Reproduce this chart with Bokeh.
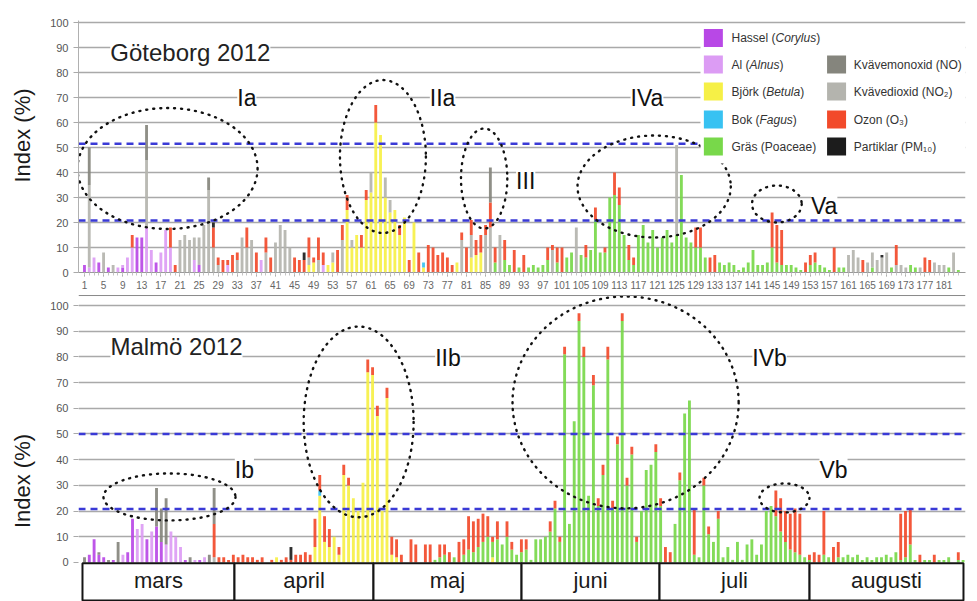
from bokeh.embed import file_html
from bokeh.layouts import column
from bokeh.models import ColumnDataSource, FixedTicker, Label, Range1d
from bokeh.plotting import figure
from bokeh.resources import INLINE

# Days 1..184 = 1 March .. 31 August 2012
DAYS = list(range(1, 185))
X_TICKS = list(range(1, 185, 4))
Y_TICKS = list(range(0, 101, 10))
MONTHS = ["mars", "april", "maj", "juni", "juli", "augusti"]

SERIES = ["hassel", "al", "bjork", "bok", "gras", "no2", "ozon", "no", "pm10"]
COLORS = {
    "hassel": "#b848e6", "al": "#dc9cf4", "bjork": "#f6f046", "bok": "#38c2f2",
    "gras": "#78d84a", "no": "#85857d", "no2": "#b4b4ae", "ozon": "#f24a2a",
    "pm10": "#1c1c1c",
}

# ---- Göteborg 2012: daily index contributions {day: index} ----
gbg_hassel = {1: 3, 4: 4, 6: 2, 9: 2, 12: 14, 13: 14, 16: 4, 25: 3}
gbg_al = {2: 2, 3: 6, 8: 2, 9: 1, 10: 6, 11: 10, 14: 18, 15: 9, 17: 8, 18: 17,
          19: 10, 24: 5, 31: 3, 38: 5, 51: 3}
gbg_bjork = {48: 3, 49: 4, 52: 3, 53: 4, 56: 25, 57: 10, 58: 15, 59: 10, 60: 29,
             61: 32, 62: 60, 63: 55, 64: 30, 65: 24, 66: 25, 67: 15, 68: 22,
             70: 20, 72: 2, 79: 4, 82: 6, 83: 7, 84: 8}
gbg_bok = {72: 2}
gbg_gras = {87: 4, 89: 5, 90: 3, 92: 2, 94: 2, 95: 3, 96: 2, 97: 3, 98: 5,
            100: 4, 102: 6, 103: 8, 105: 7, 106: 6, 107: 9, 108: 21, 109: 8,
            110: 8, 111: 30, 112: 31, 113: 27, 114: 15, 115: 5, 116: 3, 117: 15,
            118: 19, 119: 12, 120: 17, 121: 10, 122: 14, 123: 17, 124: 12,
            125: 15, 126: 39, 127: 14, 128: 12, 129: 10, 130: 10, 131: 6,
            134: 4, 135: 3, 136: 4, 137: 3, 138: 1, 139: 2, 140: 4, 141: 9,
            142: 3, 143: 3, 144: 4, 145: 10, 146: 4, 147: 3, 148: 3, 149: 3,
            150: 2, 151: 1, 153: 3, 154: 4, 155: 3, 156: 2, 157: 1, 159: 2,
            160: 2, 166: 2, 170: 2, 174: 3, 175: 2, 182: 2, 184: 1}
gbg_no2 = {2: 33, 5: 8, 7: 3, 14: 27, 21: 13, 22: 15, 23: 13, 24: 9, 25: 11,
           26: 19, 27: 33, 28: 10, 29: 3, 33: 5, 34: 14, 35: 10, 36: 13, 39: 8,
           41: 12, 42: 19, 43: 17, 44: 10, 48: 3, 50: 5, 53: 4, 55: 13, 57: 3,
           61: 8, 64: 8, 65: 5, 80: 13, 82: 9, 85: 15, 86: 18, 88: 15, 99: 9,
           104: 18, 125: 36, 161: 7, 162: 9, 163: 6, 165: 4, 166: 6, 167: 5,
           168: 6, 169: 8, 171: 3, 172: 3, 173: 2, 176: 2, 179: 4, 180: 3,
           181: 3, 183: 8}
gbg_ozon = {11: 5, 19: 8, 20: 3, 28: 8, 29: 3, 30: 5, 31: 2, 32: 7, 33: 3,
            35: 8, 37: 8, 39: 6, 40: 6, 45: 6, 46: 5, 47: 5, 48: 8, 49: 2,
            50: 9, 51: 5, 54: 9, 55: 6, 56: 6, 59: 5, 60: 4, 62: 7, 67: 4,
            69: 5, 71: 8, 73: 11, 74: 10, 75: 7, 76: 8, 77: 6, 78: 3, 80: 3,
            81: 10, 82: 6, 83: 6, 84: 7, 85: 4, 86: 10, 87: 6, 89: 8, 91: 9,
            93: 7, 98: 5, 99: 2, 100: 6, 101: 10, 106: 5, 108: 5, 110: 2,
            112: 9, 113: 7, 115: 6, 116: 3, 129: 8, 130: 8, 132: 6, 133: 7,
            145: 14, 146: 15, 147: 14, 152: 4, 153: 4, 154: 4, 158: 10,
            164: 5, 171: 8, 177: 6, 178: 5}
gbg_no = {2: 15, 14: 14, 27: 5, 86: 14}
gbg_pm10 = {28: 2, 47: 3, 168: 1}

# ---- Malmö 2012 ----
mlm_hassel = {2: 3, 3: 9, 4: 3, 5: 2, 7: 1, 10: 4, 11: 17, 14: 9, 16: 14,
              17: 8, 22: 1, 25: 1}
mlm_al = {9: 3, 12: 13, 13: 15, 15: 12, 18: 7, 19: 12, 20: 10, 21: 6, 24: 1,
          26: 2}
mlm_bjork = {41: 2, 49: 6, 50: 26, 51: 8, 52: 6, 53: 10, 54: 3, 55: 34, 56: 30,
             57: 25, 58: 20, 59: 31, 60: 74, 61: 73, 62: 57, 63: 20, 64: 64,
             65: 3, 66: 2, 86: 2}
mlm_bok = {50: 2}
mlm_gras = {74: 1, 75: 2, 76: 3, 78: 2, 80: 3, 81: 5, 82: 4, 83: 6, 84: 8,
            85: 10, 86: 6, 87: 9, 88: 7, 89: 10, 90: 5, 91: 3, 92: 4, 93: 5,
            94: 1, 95: 9, 96: 9, 97: 10, 98: 12, 99: 21, 100: 8, 101: 81,
            102: 15, 103: 55, 104: 94, 105: 80, 106: 26, 107: 69, 108: 22,
            109: 34, 110: 79, 111: 21, 112: 46, 113: 94, 114: 30, 115: 42,
            116: 8, 117: 20, 118: 36, 119: 38, 120: 43, 121: 22, 124: 15,
            125: 32, 126: 58, 127: 63, 128: 3, 129: 2, 130: 30, 131: 11,
            132: 8, 133: 17, 134: 2, 135: 6, 136: 1, 137: 8, 138: 1, 139: 7,
            140: 9, 141: 3, 142: 7, 143: 20, 144: 22, 145: 18, 146: 12, 147: 8,
            148: 5, 149: 4, 150: 3, 151: 2, 152: 1, 155: 3, 156: 2, 158: 2,
            159: 2, 160: 3, 161: 2, 162: 3, 163: 1, 164: 2, 165: 1, 166: 2,
            167: 2, 168: 3, 169: 2, 170: 4, 171: 1, 172: 2, 173: 7, 174: 1,
            176: 1, 177: 1, 179: 1, 180: 1, 181: 2, 183: 1, 184: 1}
mlm_no2 = {28: 2}
mlm_ozon = {28: 13, 29: 2, 30: 2, 31: 1, 32: 3, 33: 2, 34: 3, 35: 2, 36: 2,
            37: 1, 38: 2, 40: 1, 42: 1, 43: 2, 44: 1, 45: 3, 46: 3, 47: 4,
            48: 3, 49: 11, 50: 6, 51: 10, 52: 7, 54: 3, 55: 4, 56: 3, 60: 5,
            61: 3, 62: 4, 64: 4, 65: 7, 66: 7, 67: 3, 69: 9, 70: 7, 72: 7,
            73: 7, 75: 5, 76: 4, 77: 4, 79: 8, 80: 6, 81: 13, 82: 12, 83: 11,
            84: 11, 85: 8, 86: 2, 87: 7, 89: 6, 90: 3, 92: 5, 93: 4, 98: 4,
            99: 3, 100: 2, 101: 3, 104: 3, 105: 4, 107: 4, 108: 3, 109: 4,
            110: 5, 111: 3, 112: 3, 113: 3, 114: 3, 115: 3, 116: 2, 120: 3,
            121: 3, 122: 6, 123: 4, 125: 3, 128: 18, 130: 3, 131: 3, 133: 3,
            145: 10, 146: 13, 147: 12, 148: 14, 149: 17, 150: 16, 152: 2,
            153: 4, 154: 3, 155: 17, 157: 6, 158: 6, 171: 18, 172: 18,
            173: 14, 175: 3, 178: 3, 183: 3}
mlm_no = {1: 2, 4: 1, 6: 1, 8: 8, 16: 15, 17: 13, 18: 18, 23: 2, 27: 3, 28: 14}
mlm_pm10 = {44: 5}

GOTEBORG = {"hassel": gbg_hassel, "al": gbg_al, "bjork": gbg_bjork, "bok": gbg_bok,
            "gras": gbg_gras, "no2": gbg_no2, "ozon": gbg_ozon, "no": gbg_no,
            "pm10": gbg_pm10}
MALMO = {"hassel": mlm_hassel, "al": mlm_al, "bjork": mlm_bjork, "bok": mlm_bok,
         "gras": mlm_gras, "no2": mlm_no2, "ozon": mlm_ozon, "no": mlm_no,
         "pm10": mlm_pm10}

FONT = "Liberation Sans"
GRID = "#a9a9a9"
THRESHOLD = "#3a3ad6"
EM = "\u2003"


def make_source(city):
    data = {"day": DAYS}
    for key in SERIES:
        data[key] = [city[key].get(d, 0) for d in DAYS]
    return ColumnDataSource(data)


def make_panel(height, x_end, y_start, y_end, border_top, border_bottom, border_right,
               with_xaxis, ylabel):
    p = figure(width=977, height=height,
               x_range=Range1d(-0.25, x_end), y_range=Range1d(y_start, y_end),
               output_backend="svg", toolbar_location=None,
               x_axis_location="below" if with_xaxis else None,
               min_border_left=78, min_border_right=border_right,
               min_border_top=border_top, min_border_bottom=border_bottom)
    p.outline_line_color = None
    p.background_fill_color = "white"
    p.border_fill_color = "white"
    p.xgrid.visible = False
    p.ygrid.ticker = FixedTicker(ticks=Y_TICKS[1:])
    p.ygrid.grid_line_color = GRID
    p.ygrid.grid_line_width = 1.4
    ax = p.yaxis[0]
    ax.ticker = FixedTicker(ticks=Y_TICKS)
    ax.major_tick_out = 5
    ax.major_tick_in = 0
    ax.major_tick_line_color = GRID
    ax.minor_tick_line_color = None
    ax.major_label_standoff = 5
    ax.major_label_text_font = FONT
    ax.major_label_text_font_size = "11px"
    ax.major_label_text_color = "#555555"
    ax.axis_line_color = "#b0b0b0" if with_xaxis else None
    ax.axis_label = ylabel
    ax.axis_label_text_font = FONT
    ax.axis_label_text_font_size = "22px"
    ax.axis_label_text_font_style = "normal"
    ax.axis_label_text_color = "#1a1a1a"
    ax.axis_label_standoff = 12
    return p


def draw_bars(p, city):
    p.vbar_stack(SERIES, x="day", width=0.6, source=make_source(city),
                 fill_color=[COLORS[k] for k in SERIES], line_color=None,
                 fill_alpha=0.92)


def draw_thresholds(p, levels, x_end):
    for lv in levels:
        p.segment(x0=-0.25, x1=x_end, y0=lv, y1=lv, line_color=THRESHOLD,
                  line_width=2.4, line_dash="7 5")


def draw_groups(p, ellipses, labels):
    xs, ys, ws, hs = zip(*ellipses)
    p.ellipse(x=list(xs), y=list(ys), width=list(ws), height=list(hs),
              fill_color=None, line_color="#111111", line_width=2.4,
              line_dash="1 6", line_cap="round")
    for txt, x, y in labels:
        p.add_layout(Label(x=x, y=y, text=txt, text_font=FONT, text_font_size="23px",
                           text_align="center", text_baseline="middle",
                           text_color="#111111", background_fill_color="white"))


def add_title(p, txt, x, y):
    p.add_layout(Label(x=x, y=y, text=txt, text_font=FONT, text_font_size="24px",
                       text_align="left", text_baseline="middle", text_color="#222222",
                       background_fill_color="white"))


# ---------------- Göteborg panel ----------------
TOP_X_END = 185.5
top = make_panel(294, TOP_X_END, 0, 100.8, 20, 22, 2, True, EM + "Index (%)")
xa = top.xaxis[0]
xa.ticker = FixedTicker(ticks=X_TICKS, minor_ticks=DAYS)
xa.axis_line_color = "#9a9a9a"
xa.major_tick_out = 4
xa.major_tick_in = 0
xa.minor_tick_out = 3
xa.minor_tick_in = 0
xa.major_tick_line_color = "#9a9a9a"
xa.minor_tick_line_color = "#c4c4c4"
xa.major_label_standoff = 4
xa.major_label_text_font = FONT
xa.major_label_text_font_size = "10px"
xa.major_label_text_color = "#666666"

draw_bars(top, GOTEBORG)
draw_thresholds(top, [51.5, 20.8], TOP_X_END)
draw_groups(top,
            [(18.4, 41.6, 37.7, 48.4), (63.5, 46.4, 18.0, 61.2), (84.7, 37.6, 9.7, 40.0),
             (120.3, 34.4, 32.1, 40.8), (146.0, 27.4, 10.4, 14.8)],
            [("Ia", 35.0, 70.0), ("IIa", 76.0, 70.0), ("III", 93.4, 36.8),
             ("IVa", 118.8, 70.0), ("Va", 155.9, 26.8)])
add_title(top, "Göteborg 2012", 6.4, 88.0)

# legend block
ARIAL_W = {"H": 722, "a": 556, "s": 500, "e": 556, "l": 222, " ": 278, "(": 333,
           ")": 333, "C": 722, "o": 556, "r": 333, "y": 500, "u": 556, "A": 667,
           "n": 556, "B": 667, "j": 222, "ö": 556, "k": 500, "t": 278, "F": 611,
           "g": 556}
LEG_SIZE = 12


def text_px(s):
    return sum(ARIAL_W.get(c, 556) for c in s) * LEG_SIZE / 1000.0


LEGEND = [
    ("hassel", 0, 0, [("Hassel (", "normal"), ("Corylus", "italic"), (")", "normal")]),
    ("al", 0, 1, [("Al (", "normal"), ("Alnus", "italic"), (")", "normal")]),
    ("bjork", 0, 2, [("Björk (", "normal"), ("Betula", "italic"), (")", "normal")]),
    ("bok", 0, 3, [("Bok (", "normal"), ("Fagus", "italic"), (")", "normal")]),
    ("gras", 0, 4, [("Gräs (Poaceae)", "normal")]),
    ("no", 1, 1, [("Kvävemonoxid (NO)", "normal")]),
    ("no2", 1, 2, [("Kvävedioxid (NO₂)", "normal")]),
    ("ozon", 1, 3, [("Ozon (O₃)", "normal")]),
    ("pm10", 1, 4, [("Partiklar (PM₁₀)", "normal")]),
]
LEG_SQ_X = [132.7, 158.5]
LEG_TX_X = [136.5, 162.1]
LEG_ROW_Y = [93.8, 83.2, 72.4, 61.2, 50.4]

top.quad(left=130.0, right=TOP_X_END, bottom=43.6, top=98.4, fill_color="white",
         line_color=None)
top.rect(x=[LEG_SQ_X[c] for _, c, _, _ in LEGEND], y=[LEG_ROW_Y[r] for _, _, r, _ in LEGEND],
         width=19, height=18, width_units="screen", height_units="screen",
         fill_color=[COLORS[k] for k, _, _, _ in LEGEND], line_color=None)
for key, c, r, parts in LEGEND:
    off = 0.0
    for txt, style in parts:
        top.add_layout(Label(x=LEG_TX_X[c], y=LEG_ROW_Y[r], x_offset=off, text=txt,
                             text_font=FONT, text_font_size=f"{LEG_SIZE}px",
                             text_font_style=style, text_baseline="middle",
                             text_color="#333333"))
        off += text_px(txt)

# ---------------- Malmö panel ----------------
BOT_X_END = 184.5
bottom = make_panel(307, BOT_X_END, -15.2, 104.3, 0, 0, 12, False, "Index (%)" + EM * 3)
draw_bars(bottom, MALMO)
draw_thresholds(bottom, [50.0, 20.8], BOT_X_END)
draw_groups(bottom,
            [(18.7, 25.5, 27.5, 18.3), (58.1, 54.7, 22.9, 74.3), (113.7, 62.3, 47.1, 82.5),
             (146.8, 25.1, 10.4, 11.3)],
            [("Ib", 34.3, 35.8), ("IIb", 76.7, 79.4), ("IVb", 143.7, 79.4), ("Vb", 157.0, 35.8)])
add_title(bottom, "Malmö 2012", 6.4, 84.0)
bottom.segment(x0=-0.25, x1=BOT_X_END, y0=103.9, y1=103.9, line_color="#8a8a8a", line_width=1)

# month table under the Malmö bars
TABLE_EDGES = [0.58, 32.24, 61.19, 92.03, 120.77, 152.02, 184.08]
bottom.quad(left=TABLE_EDGES[:-1], right=TABLE_EDGES[1:], top=-0.3, bottom=-14.8,
            fill_color="white", line_color="#151515", line_width=2)
bottom.text(x=[(a + b) / 2 for a, b in zip(TABLE_EDGES[:-1], TABLE_EDGES[1:])],
            y=[-7.0] * len(MONTHS), text=MONTHS, text_font={"value": FONT},
            text_font_size={"value": "22px"}, text_align="center",
            text_baseline="middle", text_color="#1a1a1a")

layout = column(top, bottom, spacing=0)
open("out.html", "w").write(file_html(layout, INLINE))
